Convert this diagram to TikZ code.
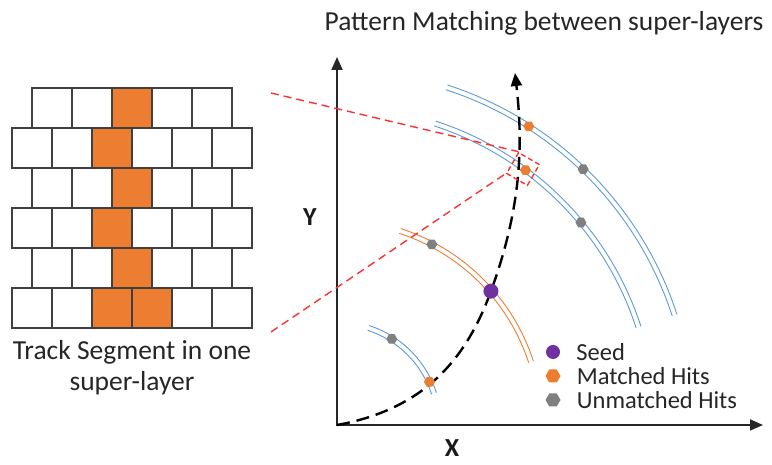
\documentclass[tikz,border=0pt]{standalone}
\usepackage{fontspec}
\setmainfont{Carlito}
\usepackage{xcolor}
\usepackage{tikz}
\usetikzlibrary{shapes.geometric, arrows.meta, calc, positioning}

\definecolor{cellorange}{HTML}{ED7D31}
\definecolor{arcblue}{HTML}{5B9BD5}
\definecolor{hitgray}{HTML}{808080}
\definecolor{seedpurple}{HTML}{7030A0}
\definecolor{cellgray}{HTML}{404040}
\definecolor{zoomred}{HTML}{FF3030}

\begin{document}
\begin{tikzpicture}[x=1pt, y=1pt, every node/.style={inner sep=0pt},
  lbl/.style={font=\fontsize{27.5}{31}\selectfont, color=black!85, align=center},
  leglbl/.style={font=\fontsize{24.5}{26}\selectfont, color=black!85},
  axlbl/.style={font=\fontsize{26}{26}\selectfont\bfseries, color=black!90},
  cell/.style={draw=cellgray, line width=1.3pt, fill=white},
  segcell/.style={cell, fill=cellorange},
  axis/.style={draw=black!85, line width=1.8pt, line join=miter,
    {Triangle[length=13pt, width=11pt]}-{Triangle[length=13pt, width=11pt]}},
  track/.style={draw=black, line width=2.4pt, dash pattern=on 13pt off 7pt,
    -{Triangle[length=13pt, width=11pt]}},
  wire/.style={line width=0.9pt},
  matched/.style={regular polygon, regular polygon sides=6, fill=cellorange, minimum size=11pt},
  unmatched/.style={matched, fill=hitgray},
  seedhit/.style={circle, fill=seedpurple, minimum size=15pt},
  zoomline/.style={draw=zoomred, line width=1.4pt, dash pattern=on 8pt off 5pt}]
\useasboundingbox (0,0) rectangle (772,465);

% track segment in one super-layer
\foreach \r in {0,2,4}
  \foreach \c in {0,...,4}
    \draw[cell] ({32+40*\c}, {337-40*\r}) rectangle ++(40,40);
\foreach \r in {1,3,5}
  \foreach \c in {0,...,5}
    \draw[cell] ({12+40*\c}, {337-40*\r}) rectangle ++(40,40);
\foreach \x/\r in {112/0, 92/1, 112/2, 92/3, 112/4, 92/5, 132/5}
  \draw[segcell] (\x, {337-40*\r}) rectangle ++(40,40);
\node[lbl] (seglbl) at (132,97) {Track Segment in one\\super-layer};

% axes
\coordinate (O) at (337,40);
\coordinate (ytip) at (337,408);
\coordinate (xtip) at (763,40);
\draw[axis] (ytip) -- (O) -- (xtip);
\node[axlbl] (ylbl) at (310,248) {Y};
\node[axlbl] (xlbl) at (452,17) {X};
\node[lbl] (title) at (544,442) {Pattern Matching between super-layers};

% super-layers
\foreach \rad/\col in {102/arcblue, 204/cellorange, 317/arcblue, 355/arcblue}
  \foreach \d in {-2.5, 2.5}
    \draw[wire, \col] (O) ++(72:{\rad+\d}) arc[start angle=72, end angle=18, radius={\rad+\d}];

% track
\coordinate (seedpos) at ($(O)+(41:204)$);
\coordinate (tktip) at (515,392);
\draw[track] (O) .. controls (426,56) and (467,108) .. (seedpos)
  .. controls (522,259) and (523,322) .. (tktip);

% hits
\node[unmatched] (u1) at ($(O)+(57.5:102)$) {};
\node[matched] (m1) at ($(O)+(25:102)$) {};
\node[unmatched] (u2) at ($(O)+(62.3:204)$) {};
\node[seedhit] (seed) at (seedpos) {};
\node[matched] (m3) at ($(O)+(53.5:317)$) {};
\node[unmatched] (u3) at ($(O)+(39.7:317)$) {};
\node[matched] (m4) at ($(O)+(57.3:355)$) {};
\node[unmatched] (u4) at ($(O)+(46.1:355)$) {};

% zoom window
\node[draw=zoomred, line width=1.4pt, dash pattern=on 5pt off 3pt,
  minimum size=24pt, rotate=-30] (win) at (523,296) {};
\coordinate (segtop) at (271,372);
\coordinate (segbot) at (271,133);
\draw[zoomline] (segtop) -- (win.north west);
\draw[zoomline] (segbot) -- (win.south west);

% legend
\node[seedhit, minimum size=14pt] (legseed) at (553,113) {};
\node[matched, minimum size=15pt] (legmatched) at (553,89) {};
\node[unmatched, minimum size=15pt] (legunmatched) at (553,65) {};
\node[leglbl, anchor=west, right=16pt of legseed] (legseedtxt) {Seed};
\node[leglbl, anchor=west, right=16pt of legmatched] (legmatchedtxt) {Matched Hits};
\node[leglbl, anchor=west, right=16pt of legunmatched] (legunmatchedtxt) {Unmatched Hits};
\end{tikzpicture}
\end{document}
